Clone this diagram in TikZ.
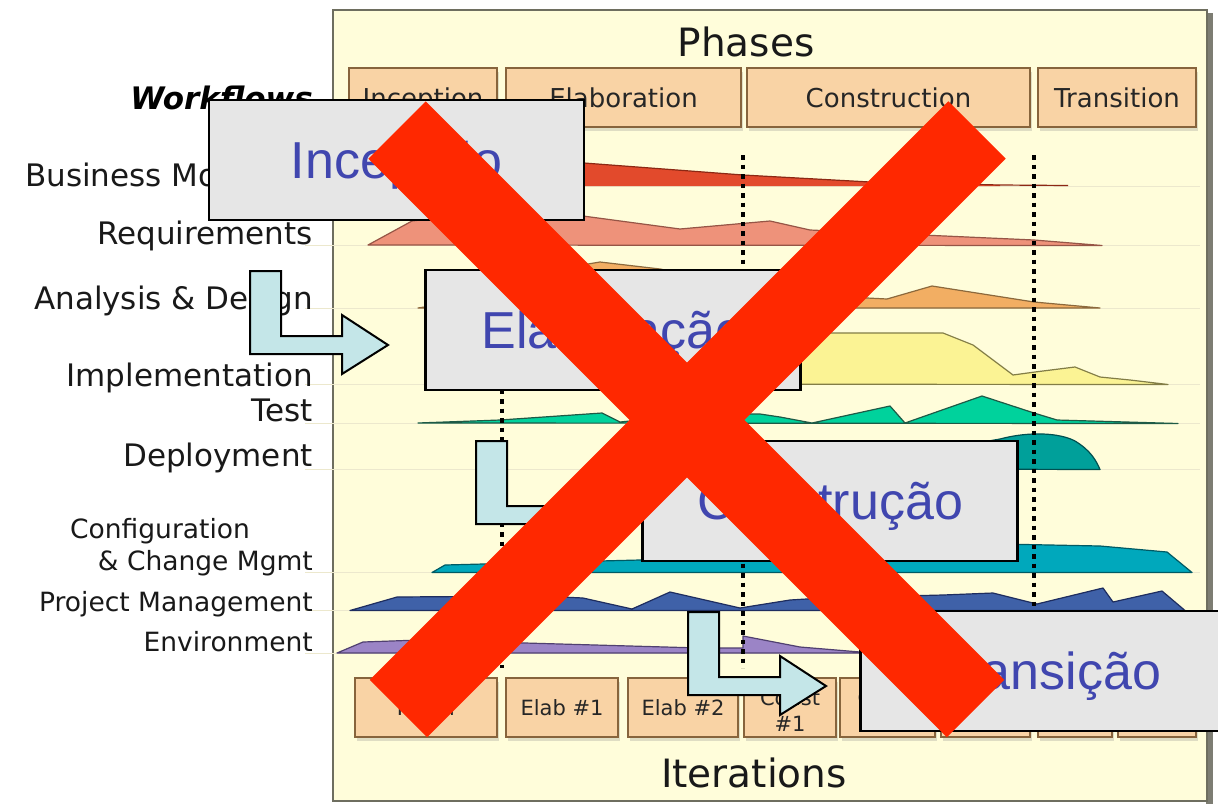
\documentclass[tikz,border=0pt]{standalone}
\usepackage{fontspec}
\setmainfont{DejaVu Sans}
\newfontfamily\overfont{Liberation Sans}
\usetikzlibrary{shadows}

\definecolor{panel}{RGB}{255,253,218}
\definecolor{paneledge}{RGB}{110,110,95}
\definecolor{panelshade}{RGB}{125,125,115}
\definecolor{rowrule}{RGB}{236,232,205}
\definecolor{peach}{RGB}{249,211,165}
\definecolor{peachedge}{RGB}{135,100,60}
\definecolor{overgray}{RGB}{230,230,230}
\definecolor{bluetxt}{RGB}{64,70,175}
\definecolor{arrowfill}{RGB}{196,230,232}
\definecolor{xred}{RGB}{255,40,0}
\definecolor{lbltxt}{RGB}{25,25,25}
% workflow hump colours
\definecolor{bmfill}{RGB}{226,74,44}\definecolor{bmedge}{RGB}{140,40,20}
\definecolor{rqfill}{RGB}{238,146,122}\definecolor{rqedge}{RGB}{150,85,70}
\definecolor{adfill}{RGB}{242,174,99}\definecolor{adedge}{RGB}{140,105,60}
\definecolor{imfill}{RGB}{251,243,148}\definecolor{imedge}{RGB}{130,125,70}
\definecolor{tsfill}{RGB}{0,210,156}\definecolor{tsedge}{RGB}{30,90,70}
\definecolor{dpfill}{RGB}{0,160,154}\definecolor{dpedge}{RGB}{0,80,80}
\definecolor{cmfill}{RGB}{0,168,188}\definecolor{cmedge}{RGB}{0,90,100}
\definecolor{pmfill}{RGB}{63,97,168}\definecolor{pmedge}{RGB}{30,45,95}
\definecolor{enfill}{RGB}{155,132,198}\definecolor{enedge}{RGB}{80,64,112}

\begin{document}
\begin{tikzpicture}[x=1pt,y=-1pt,
  rowlbl/.style={anchor=base east,inner sep=0pt,text=lbltxt,font=\fontsize{31}{36}\selectfont},
  rowlblsm/.style={rowlbl,font=\fontsize{26.5}{32}\selectfont},
  phasebox/.style={draw=peachedge,fill=peach,line width=1.2pt,inner sep=0pt,
     text=black!85,font=\fontsize{26}{30}\selectfont,text height=19pt,text depth=0pt,
     drop shadow={shadow xshift=2pt,shadow yshift=-4pt,opacity=.25}},
  iterbox/.style={phasebox,font=\fontsize{21}{24}\selectfont,text height=15pt,align=center,
     minimum height=59pt},
  itertext/.style={anchor=base,inner sep=0pt,text=black!85,font=\fontsize{21}{24}\selectfont},
  overbox/.style={draw=black,fill=overgray,line width=2.5pt,inner sep=0pt,
     minimum width=375pt,minimum height=120pt,text=bluetxt,
     font=\overfont\fontsize{52}{60}\selectfont,text height=37pt,text depth=0pt},
  bentfill/.style={draw=black,fill=arrowfill,line width=2pt,line join=miter},
  dotline/.style={line width=4.5pt,dash pattern=on 4.5pt off 5pt},
  hump/.style={line width=1.2pt,line join=round},
  xstroke/.style={draw=xred,line width=81pt,line cap=butt},
  bentarrow/.pic={\draw[bentfill] (0,0) -- (31,0) -- (31,65) -- (92,65) -- (92,44)
     -- (138,74) -- (92,103) -- (92,83) -- (0,83) -- cycle;}
]
\useasboundingbox (0,0) rectangle (1218,804);
\clip (0,0) rectangle (1218,804);
\fill[white] (0,0) rectangle (1218,804);

% chart panel with its shadow
\fill[panelshade] (1206,13) rectangle (1213,804);
\draw[draw=paneledge,fill=panel,line width=1.5pt] (333,10) rectangle (1207,801);

% faint row rules
\foreach \yy in {186,245,308,384,423,469,572,610,653}
  \draw[rowrule,line width=1pt] (305,\yy) -- (1200,\yy);

% workflow humps
\fill[bmfill] (360,186) -- (400,166) -- (480,158) -- (584,163) -- (743,175) -- (870,182) -- (1000,185) -- (1000,186) -- cycle;
\draw[bmedge,hump] (400,166) -- (480,158) -- (584,163) -- (743,175) -- (870,182) -- (1000,185) -- (1068,185.5);

\draw[hump,draw=rqedge,fill=rqfill] (368,245) -- (412,221) -- (470,214) -- (583,216) -- (680,229) -- (725,225) -- (770,221) -- (810,230) -- (900,234) -- (1034,240) -- (1102,245.5) -- cycle;

\draw[hump,draw=adedge,fill=adfill] (418,308) -- (470,300) -- (540,272) -- (600,262) -- (660,269) -- (740,285) -- (847,297) -- (887,299) -- (932,286) -- (1034,302) -- (1100,308) -- cycle;

\draw[hump,draw=imedge,fill=imfill] (440,384) -- (470,345) -- (520,333) -- (943,333) -- (973,345) -- (1013,375) -- (1035,372) -- (1075,367) -- (1100,377) -- (1130,380) -- (1168,384.5) -- cycle;

\draw[hump,draw=tsedge,fill=tsfill] (418,423) -- (500,420) -- (602,413) -- (620,422) -- (700,414) -- (760,414) -- (780,417) -- (812,423) -- (890,406) -- (905,423) -- (982,396) -- (1034,413) -- (1057,420) -- (1178,423.5) -- cycle;

\draw[hump,draw=dpedge,fill=dpfill] (905,469) -- (960,446) -- (1000,439) .. controls (1030,431) and (1060,433) .. (1075,441) .. controls (1090,450) and (1096,460) .. (1100,469.5) -- cycle;

\draw[hump,draw=cmedge,fill=cmfill] (432,572.5) -- (445,565) -- (560,562) -- (640,560) -- (810,548) -- (950,543) -- (1100,546) -- (1167,552) -- (1192,572.5) -- cycle;

\draw[hump,draw=pmedge,fill=pmfill] (350,610.5) -- (397,597) -- (540,596) -- (583,598) -- (632,609) -- (670,592) -- (740,608) -- (790,600) -- (823,598) -- (943,595) -- (993,593) -- (1037,604) -- (1103,588) -- (1113,602) -- (1162,591) -- (1185,610.5) -- cycle;

\draw[hump,draw=enedge,fill=enfill] (337,653) -- (363,642) -- (420,640) -- (560,644) -- (700,648) -- (743,648) -- (743,636) -- (800,647) -- (860,652) -- (880,653) -- cycle;

% iteration boundaries
\draw[dotline] (502,285) -- (502,668);
\draw[dotline] (743,155) -- (743,668);
\draw[dotline] (1034,155) -- (1034,668);

% titles
\node[anchor=base,inner sep=0pt,text=lbltxt,font=\fontsize{39}{44}\selectfont] (phases) at (746,56) {Phases};
\node[anchor=base,inner sep=0pt,text=lbltxt,font=\fontsize{39}{44}\selectfont] (iters) at (754,787) {Iterations};

% phase boxes
\node[phasebox,minimum width=148pt,minimum height=59pt] (ph-inc) at (423,97.5) {Inception};
\node[phasebox,minimum width=235pt,minimum height=59pt] (ph-ela) at (623.5,97.5) {Elaboration};
\node[phasebox,minimum width=283pt,minimum height=59pt] (ph-con) at (888.5,97.5) {Construction};
\node[phasebox,minimum width=158pt,minimum height=59pt] (ph-tra) at (1117,97.5) {Transition};

% iteration boxes
\node[iterbox,minimum width=142pt] (it-1) at (426,707.5) {Initial};
\node[iterbox,minimum width=112pt] (it-2) at (562,707.5) {Elab \#1};
\node[iterbox,minimum width=110pt] (it-3) at (683,707.5) {Elab \#2};
\node[iterbox,minimum width=92pt] (it-4) at (790,707.5) {};
\node[iterbox,minimum width=95pt] (it-5) at (887.5,707.5) {};
\node[iterbox,minimum width=89pt] (it-6) at (985.5,707.5) {};
\node[iterbox,minimum width=74pt] (it-7) at (1075,707.5) {};
\node[iterbox,minimum width=78pt] (it-8) at (1157,707.5) {};
\node[itertext] (it-4a) at (790,705) {Const};
\node[itertext] (it-4b) at (790,731) {\#1};
\node[itertext] (it-5a) at (887.5,705) {Const};
\node[itertext] (it-5b) at (887.5,731) {\#2};

% workflow labels
\node[anchor=base east,inner sep=0pt,text=black,font=\fontsize{31}{36}\selectfont\bfseries\itshape] (wf) at (313,109) {Workflows};
\node[rowlbl] (l-bm) at (313,186) {Business Modeling};
\node[rowlbl] (l-rq) at (313,244) {Requirements};
\node[rowlbl] (l-ad) at (313,309) {Analysis \& Design};
\node[rowlbl] (l-im) at (313,386) {Implementation};
\node[rowlbl] (l-ts) at (313,421) {Test};
\node[rowlbl] (l-dp) at (313,466) {Deployment};
\node[rowlblsm,anchor=base west] (l-cf) at (70,538) {Configuration};
\node[rowlblsm] (l-cm) at (313,570) {\& Change Mgmt};
\node[rowlblsm] (l-pm) at (313,611) {Project Management};
\node[rowlblsm] (l-en) at (313,651) {Environment};

% phase call-outs
\node[overbox] (inc) at (396.5,160) {Incepção};
\node[overbox] (ela) at (613,330) {Elaboração};
\node[overbox] (con) at (830,501) {Construção};
\node[overbox] (tra) at (1048,671) {Transição};

% bent arrows between the call-outs
\pic at (250,271) {bentarrow};
\pic at (476,441) {bentarrow};
\pic at (688,612) {bentarrow};

% the cross
\coordinate (xa) at (397,130);
\coordinate (xb) at (975.5,708.5);
\coordinate (xc) at (977,130);
\coordinate (xd) at (398.5,708.5);
\draw[xstroke] (xa) -- (xb);
\draw[xstroke] (xc) -- (xd);
\end{tikzpicture}
\end{document}
